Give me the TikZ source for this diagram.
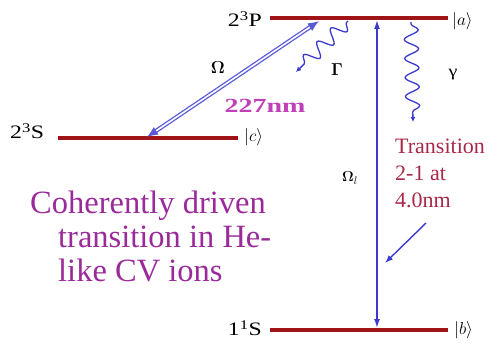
\documentclass[tikz,border=0pt]{standalone}
\usepackage{amsmath,amssymb}
\usepackage{fontspec}
\setmainfont{Liberation Serif}
\newfontfamily\wideserif[FakeStretch=1.25]{Liberation Serif}
\newfontfamily\widerserif[FakeStretch=1.4]{Liberation Serif}
\usepackage{xcolor}
\usetikzlibrary{arrows.meta,decorations.pathmorphing}

\definecolor{levelred}{HTML}{A01418}
\definecolor{laserblue}{HTML}{3A3ACC}
\definecolor{pumpblue}{HTML}{5A5AD8}
\definecolor{notemag}{HTML}{9A2A9A}
\definecolor{notered}{HTML}{A82848}
\definecolor{wavemag}{HTML}{C040B8}

\begin{document}
\begin{tikzpicture}[x=1pt, y=-1pt,
    level/.style={draw=levelred, line width=3.6pt},
    lbl/.style={inner sep=1pt, font=\wideserif\fontsize{19}{21}\selectfont},
    ket/.style={inner sep=1pt, font=\fontsize{19}{21}\selectfont},
    greek/.style={inner sep=1pt, font=\fontsize{17}{19}\selectfont},
    pump/.style={{Latex[length=11pt,width=9pt]}-{Latex[length=11pt,width=9pt]}, draw=pumpblue, double=white, double distance=1.6pt, line width=1.3pt},
    probe/.style={{Latex[length=9pt,width=6pt]}-{Latex[length=9pt,width=6pt]}, draw=laserblue, line width=1.5pt},
    decay/.style={-{Latex[length=5pt,width=5pt]}, draw=laserblue, line width=1.3pt, decorate, decoration={snake, amplitude=7pt, segment length=19pt, pre length=2pt, post length=5pt}},
    note/.style={align=left, inner sep=0pt, anchor=north west}
]
    \useasboundingbox (0,0) rectangle (492,347);

    % Levels
    \coordinate (aL) at (270,18);  \coordinate (aR) at (448,18);
    \coordinate (cL) at (58,138);  \coordinate (cR) at (238,138);
    \coordinate (bL) at (270,330); \coordinate (bR) at (448,330);
    \draw[level] (aL) -- (aR);
    \draw[level] (cL) -- (cR);
    \draw[level] (bL) -- (bR);

    % Level labels
    \node[lbl, anchor=east] (nameA) at (263,19) {2\textsuperscript{3}P};
    \node[lbl, anchor=west] (nameC) at (9,131) {2\textsuperscript{3}S};
    \node[lbl, anchor=east] (nameB) at (263,328) {1\textsuperscript{1}S};
    \node[ket, anchor=west] (ketA) at (451,21) {$|a\rangle$};
    \node[ket, anchor=west] (ketC) at (243,137) {$|c\rangle$};
    \node[ket, anchor=west] (ketB) at (453,330) {$|b\rangle$};

    % Transition points
    \coordinate (pumpTop) at (319,21);
    \coordinate (pumpBot) at (147,137);
    \coordinate (probeTop) at (377,20);
    \coordinate (probeBot) at (377,328);
    \coordinate (gamStart) at (348,21);
    \coordinate (gamEnd) at (296,72);
    \coordinate (decStart) at (411,22);
    \coordinate (decEnd) at (413,122);

    % Arrows
    \draw[pump] (pumpBot) -- (pumpTop);
    \draw[probe] (probeBot) -- (probeTop);
    \draw[decay] (gamStart) -- (gamEnd);
    \draw[decay] (decStart) -- (decEnd);

    % Arrow labels
    \node[greek] (om) at (218,68) {$\boldsymbol{\Omega}$};
    \node[greek] (gm) at (337,70) {$\boldsymbol{\Gamma}$};
    \node[greek, font=\wideserif\fontsize{16}{18}\selectfont] (ga) at (453,75) {γ};
    \node[greek, font=\fontsize{15}{17}\selectfont] (oml) at (350,178) {$\boldsymbol{\Omega}_l$};
    \node[inner sep=1pt, text=wavemag, font=\widerserif\bfseries\fontsize{20}{22}\selectfont] (wl) at (265,106) {227nm};

    % Notes
    \node[note, text=notered, font=\fontsize{22}{27}\selectfont] (trans) at (395,139) {Transition\\2-1 at\\4.0nm};
    \coordinate (transTip) at (385,263);
    \draw[-{Latex[length=8pt,width=6pt]}, draw=laserblue, line width=1.4pt] (426,223) -- (transTip);
    \node[note, text=notemag, font=\fontsize{32.5}{34}\selectfont] (coh) at (30,191) {Coherently driven\\\hspace*{28pt}transition in He-\\\hspace*{28pt}like CV ions};
\end{tikzpicture}
\end{document}
